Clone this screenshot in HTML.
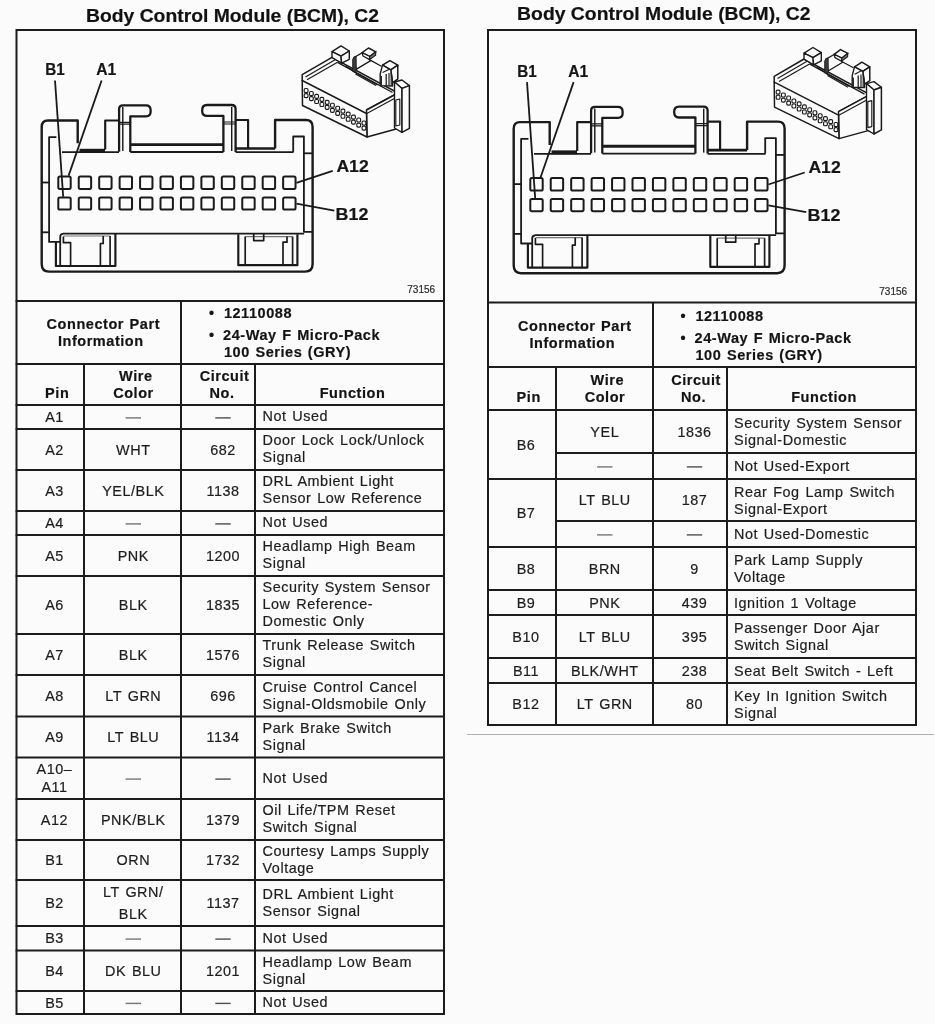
<!DOCTYPE html>
<html><head><meta charset="utf-8"><style>
html,body{margin:0;padding:0;background:#fbfbfb;}
body{width:935px;height:1024px;overflow:hidden;}
svg{display:block;font-family:"Liberation Sans", sans-serif;filter:grayscale(1) blur(0.3px);}
text{stroke:#1e1e1e;stroke-width:0.2px;}
</style></head><body>
<svg width="935" height="1024" viewBox="0 0 935 1024" font-family='"Liberation Sans", sans-serif'>
<rect x="0" y="0" width="935" height="1024" fill="#fbfbfb"/>
<text x="86.0" y="21.6" font-size="17.5" font-weight="bold" textLength="293" lengthAdjust="spacingAndGlyphs" fill="#111">Body Control Module (BCM), C2</text>
<text x="517.1" y="20.3" font-size="17.5" font-weight="bold" textLength="293.5" lengthAdjust="spacingAndGlyphs" fill="#111">Body Control Module (BCM), C2</text>
<rect x="16.5" y="30" width="427.5" height="984" fill="none" stroke="#1c1c1c" stroke-width="2.0"/>
<rect x="488" y="30" width="428" height="695" fill="none" stroke="#1c1c1c" stroke-width="2.0"/>
<g><path d="M77.7 143.3 V120.5 H48 Q41.7 120.5 41.7 127 V264 Q41.7 271.6 49 271.6 H305 Q312.6 271.6 312.6 264 V127 Q312.6 120 306 120 H275.1 V148.5" fill="none" stroke="#1a1a1a" stroke-linejoin="round" stroke-linecap="butt" stroke-width="2.40" />
<path d="M41.7 182.5 H49" fill="none" stroke="#1a1a1a" stroke-linejoin="round" stroke-linecap="butt" stroke-width="1.80" />
<path d="M41.7 232.3 H48.9" fill="none" stroke="#1a1a1a" stroke-linejoin="round" stroke-linecap="butt" stroke-width="1.80" />
<path d="M56.4 137.2 H49.1 V241.9 H60.2" fill="none" stroke="#1a1a1a" stroke-linejoin="round" stroke-linecap="butt" stroke-width="1.80" />
<path d="M293.2 152 V136.5 H303.9 V231.8 H312.6" fill="none" stroke="#1a1a1a" stroke-linejoin="round" stroke-linecap="butt" stroke-width="1.80" />
<path d="M303.9 153.3 H312.6" fill="none" stroke="#1a1a1a" stroke-linejoin="round" stroke-linecap="butt" stroke-width="1.80" />
<path d="M62 152.2 H119" fill="none" stroke="#1a1a1a" stroke-linejoin="round" stroke-linecap="butt" stroke-width="1.80" />
<path d="M79.5 150.7 H105" fill="none" stroke="#1a1a1a" stroke-linejoin="round" stroke-linecap="butt" stroke-width="3.84" />
<path d="M130.3 152 H223.4" fill="none" stroke="#1a1a1a" stroke-linejoin="round" stroke-linecap="butt" stroke-width="1.80" />
<path d="M235.6 152.2 H293.6" fill="none" stroke="#1a1a1a" stroke-linejoin="round" stroke-linecap="butt" stroke-width="1.80" />
<path d="M130.3 144.6 H223.4" fill="none" stroke="#1a1a1a" stroke-linejoin="round" stroke-linecap="butt" stroke-width="2.88" />
<path d="M235.6 148.5 H275.1" fill="none" stroke="#1a1a1a" stroke-linejoin="round" stroke-linecap="butt" stroke-width="2.64" />
<path d="M105.2 149.5 V120.5 H119.1" fill="none" stroke="#1a1a1a" stroke-linejoin="round" stroke-linecap="butt" stroke-width="2.16" />
<path d="M119.1 151.7 V109 Q119.1 105.3 123 105.3 H146 Q150.6 105.3 150.6 110 V112 Q150.6 116.3 146 116.3 H130.3 V152" fill="none" stroke="#1a1a1a" stroke-linejoin="round" stroke-linecap="butt" stroke-width="2.28" />
<path d="M122.8 107 V151" fill="none" stroke="#1a1a1a" stroke-linejoin="round" stroke-linecap="butt" stroke-width="1.44" />
<path d="M119.1 122.3 H130.3 M119.1 124.2 H130.3" fill="none" stroke="#1a1a1a" stroke-linejoin="round" stroke-linecap="butt" stroke-width="1.20" />
<path d="M235.6 152 V109 Q235.6 105 231.5 105 H207 Q202.2 105 202.2 110 V111 Q202.2 115.9 207 115.9 H223.4 V152" fill="none" stroke="#1a1a1a" stroke-linejoin="round" stroke-linecap="butt" stroke-width="2.28" />
<path d="M231.7 107 V151" fill="none" stroke="#1a1a1a" stroke-linejoin="round" stroke-linecap="butt" stroke-width="1.44" />
<path d="M223.4 122 H235.6 M223.4 124 H235.6" fill="none" stroke="#1a1a1a" stroke-linejoin="round" stroke-linecap="butt" stroke-width="1.20" />
<path d="M235.6 120 H248.1 V148.5" fill="none" stroke="#1a1a1a" stroke-linejoin="round" stroke-linecap="butt" stroke-width="2.16" />
<path d="M63 233.6 H304.1" fill="none" stroke="#1a1a1a" stroke-linejoin="round" stroke-linecap="butt" stroke-width="1.80" />
<path d="M63.4 236 H110.1" fill="none" stroke="#1a1a1a" stroke-linejoin="round" stroke-linecap="butt" stroke-width="1.20" stroke-opacity="0.6"/>
<path d="M245.2 236.6 H292.6" fill="none" stroke="#1a1a1a" stroke-linejoin="round" stroke-linecap="butt" stroke-width="1.20" stroke-opacity="0.6"/>
<path d="M55.9 242 V266 H115.4 V233.6" fill="none" stroke="#1a1a1a" stroke-linejoin="round" stroke-linecap="butt" stroke-width="2.16" />
<path d="M60.2 266 V237 Q60.2 233.9 63 233.9" fill="none" stroke="#1a1a1a" stroke-linejoin="round" stroke-linecap="butt" stroke-width="1.80" />
<path d="M63.4 236.5 V242.7 H70.6 V266" fill="none" stroke="#1a1a1a" stroke-linejoin="round" stroke-linecap="butt" stroke-width="1.68" />
<path d="M100.4 266 V243.5 H103.2 V236" fill="none" stroke="#1a1a1a" stroke-linejoin="round" stroke-linecap="butt" stroke-width="1.68" />
<path d="M110.1 236 V266" fill="none" stroke="#1a1a1a" stroke-linejoin="round" stroke-linecap="butt" stroke-width="1.68" />
<path d="M238.3 234.2 V265.2 H297.4 V234.2" fill="none" stroke="#1a1a1a" stroke-linejoin="round" stroke-linecap="butt" stroke-width="2.16" />
<path d="M245.2 236.6 V265.2" fill="none" stroke="#1a1a1a" stroke-linejoin="round" stroke-linecap="butt" stroke-width="1.68" />
<path d="M253.7 233.6 V240.6 H263.7 V233.6" fill="none" stroke="#1a1a1a" stroke-linejoin="round" stroke-linecap="butt" stroke-width="1.68" />
<path d="M283 265.2 V242.2 H287 V236.6" fill="none" stroke="#1a1a1a" stroke-linejoin="round" stroke-linecap="butt" stroke-width="1.68" />
<path d="M292.6 236.6 V265.2" fill="none" stroke="#1a1a1a" stroke-linejoin="round" stroke-linecap="butt" stroke-width="1.68" />
<rect x="58.30" y="176.5" width="12.4" height="12.4" rx="1.6" fill="none" stroke="#1a1a1a" stroke-linejoin="round" stroke-linecap="butt" stroke-width="2.0"/>
<rect x="58.30" y="197.4" width="12.4" height="12.2" rx="1.6" fill="none" stroke="#1a1a1a" stroke-linejoin="round" stroke-linecap="butt" stroke-width="2.0"/>
<rect x="78.74" y="176.5" width="12.4" height="12.4" rx="1.6" fill="none" stroke="#1a1a1a" stroke-linejoin="round" stroke-linecap="butt" stroke-width="2.0"/>
<rect x="78.74" y="197.4" width="12.4" height="12.2" rx="1.6" fill="none" stroke="#1a1a1a" stroke-linejoin="round" stroke-linecap="butt" stroke-width="2.0"/>
<rect x="99.18" y="176.5" width="12.4" height="12.4" rx="1.6" fill="none" stroke="#1a1a1a" stroke-linejoin="round" stroke-linecap="butt" stroke-width="2.0"/>
<rect x="99.18" y="197.4" width="12.4" height="12.2" rx="1.6" fill="none" stroke="#1a1a1a" stroke-linejoin="round" stroke-linecap="butt" stroke-width="2.0"/>
<rect x="119.62" y="176.5" width="12.4" height="12.4" rx="1.6" fill="none" stroke="#1a1a1a" stroke-linejoin="round" stroke-linecap="butt" stroke-width="2.0"/>
<rect x="119.62" y="197.4" width="12.4" height="12.2" rx="1.6" fill="none" stroke="#1a1a1a" stroke-linejoin="round" stroke-linecap="butt" stroke-width="2.0"/>
<rect x="140.06" y="176.5" width="12.4" height="12.4" rx="1.6" fill="none" stroke="#1a1a1a" stroke-linejoin="round" stroke-linecap="butt" stroke-width="2.0"/>
<rect x="140.06" y="197.4" width="12.4" height="12.2" rx="1.6" fill="none" stroke="#1a1a1a" stroke-linejoin="round" stroke-linecap="butt" stroke-width="2.0"/>
<rect x="160.50" y="176.5" width="12.4" height="12.4" rx="1.6" fill="none" stroke="#1a1a1a" stroke-linejoin="round" stroke-linecap="butt" stroke-width="2.0"/>
<rect x="160.50" y="197.4" width="12.4" height="12.2" rx="1.6" fill="none" stroke="#1a1a1a" stroke-linejoin="round" stroke-linecap="butt" stroke-width="2.0"/>
<rect x="180.94" y="176.5" width="12.4" height="12.4" rx="1.6" fill="none" stroke="#1a1a1a" stroke-linejoin="round" stroke-linecap="butt" stroke-width="2.0"/>
<rect x="180.94" y="197.4" width="12.4" height="12.2" rx="1.6" fill="none" stroke="#1a1a1a" stroke-linejoin="round" stroke-linecap="butt" stroke-width="2.0"/>
<rect x="201.38" y="176.5" width="12.4" height="12.4" rx="1.6" fill="none" stroke="#1a1a1a" stroke-linejoin="round" stroke-linecap="butt" stroke-width="2.0"/>
<rect x="201.38" y="197.4" width="12.4" height="12.2" rx="1.6" fill="none" stroke="#1a1a1a" stroke-linejoin="round" stroke-linecap="butt" stroke-width="2.0"/>
<rect x="221.82" y="176.5" width="12.4" height="12.4" rx="1.6" fill="none" stroke="#1a1a1a" stroke-linejoin="round" stroke-linecap="butt" stroke-width="2.0"/>
<rect x="221.82" y="197.4" width="12.4" height="12.2" rx="1.6" fill="none" stroke="#1a1a1a" stroke-linejoin="round" stroke-linecap="butt" stroke-width="2.0"/>
<rect x="242.26" y="176.5" width="12.4" height="12.4" rx="1.6" fill="none" stroke="#1a1a1a" stroke-linejoin="round" stroke-linecap="butt" stroke-width="2.0"/>
<rect x="242.26" y="197.4" width="12.4" height="12.2" rx="1.6" fill="none" stroke="#1a1a1a" stroke-linejoin="round" stroke-linecap="butt" stroke-width="2.0"/>
<rect x="262.70" y="176.5" width="12.4" height="12.4" rx="1.6" fill="none" stroke="#1a1a1a" stroke-linejoin="round" stroke-linecap="butt" stroke-width="2.0"/>
<rect x="262.70" y="197.4" width="12.4" height="12.2" rx="1.6" fill="none" stroke="#1a1a1a" stroke-linejoin="round" stroke-linecap="butt" stroke-width="2.0"/>
<rect x="283.14" y="176.5" width="12.4" height="12.4" rx="1.6" fill="none" stroke="#1a1a1a" stroke-linejoin="round" stroke-linecap="butt" stroke-width="2.0"/>
<rect x="283.14" y="197.4" width="12.4" height="12.2" rx="1.6" fill="none" stroke="#1a1a1a" stroke-linejoin="round" stroke-linecap="butt" stroke-width="2.0"/>
<path d="M55.0 80.5 L63.2 196.8" fill="none" stroke="#1a1a1a" stroke-linejoin="round" stroke-linecap="butt" stroke-width="1.80" />
<path d="M101.6 80.5 L68.6 175.6" fill="none" stroke="#1a1a1a" stroke-linejoin="round" stroke-linecap="butt" stroke-width="1.80" />
<path d="M296.4 182.9 L332.7 170.9" fill="none" stroke="#1a1a1a" stroke-linejoin="round" stroke-linecap="butt" stroke-width="1.80" />
<path d="M296.4 203.7 L334.3 210.6" fill="none" stroke="#1a1a1a" stroke-linejoin="round" stroke-linecap="butt" stroke-width="1.80" />
<text x="45.3" y="75.1" font-family='"Liberation Sans", sans-serif' font-weight="bold" font-size="16.5" fill="#151515" textLength="19.5" lengthAdjust="spacingAndGlyphs">B1</text>
<text x="96.3" y="75.1" font-family='"Liberation Sans", sans-serif' font-weight="bold" font-size="16.5" fill="#151515" textLength="20" lengthAdjust="spacingAndGlyphs">A1</text>
<text x="336.4" y="171.8" font-family='"Liberation Sans", sans-serif' font-weight="bold" font-size="16.5" fill="#151515" textLength="32.3" lengthAdjust="spacingAndGlyphs">A12</text>
<text x="335.6" y="219.9" font-family='"Liberation Sans", sans-serif' font-weight="bold" font-size="16.5" fill="#151515" textLength="32.8" lengthAdjust="spacingAndGlyphs">B12</text>
<text x="407.3" y="293" font-family='"Liberation Sans", sans-serif' font-size="10" fill="#333">73156</text>
<polygon points="302.2,74.7 332,57.4 398,93 366.5,110 366.5,113.5 302.2,80.5" fill="#fbfbfb" stroke="none"/>
<polyline points="302.2,81 302.2,74.7 332,57.4 398,93 366.5,110" fill="none" stroke="#1a1a1a" stroke-width="1.49" stroke-linejoin="round"/>
<polygon points="366.5,110 398,93 398,128.5 367,137" fill="#fbfbfb" stroke="#1a1a1a" stroke-linejoin="round" stroke-width="1.49"/>
<polygon points="302.2,80.5 366.5,113.5 367,137 302.5,105.5" fill="#fbfbfb" stroke="#1a1a1a" stroke-linejoin="round" stroke-width="1.49"/>
<polyline points="305.5,77 335.5,59.5" fill="none" stroke="#1a1a1a" stroke-width="1.15" stroke-linejoin="round"/>
<polyline points="307,79.8 337.5,62.3" fill="none" stroke="#1a1a1a" stroke-width="1.15" stroke-linejoin="round"/>
<polyline points="366.8,113.6 398,96.6" fill="none" stroke="#1a1a1a" stroke-width="1.15" stroke-linejoin="round"/>
<polyline points="337.5,62.3 392.5,92.5" fill="none" stroke="#1a1a1a" stroke-width="1.38" stroke-linejoin="round"/>
<polygon points="332,51.6 341,45.9 349.3,51 341,56.1" fill="#fbfbfb" stroke="#1a1a1a" stroke-linejoin="round" stroke-width="1.38"/>
<polygon points="332,51.6 341,56.1 341.6,63.2 332,57.5" fill="#fbfbfb" stroke="#1a1a1a" stroke-linejoin="round" stroke-width="1.38"/>
<polygon points="341,56.1 349.3,51 349.3,59.3 341.6,63.2" fill="#fbfbfb" stroke="#1a1a1a" stroke-linejoin="round" stroke-width="1.38"/>
<polyline points="345,66 353.6,70.7" fill="none" stroke="#1a1a1a" stroke-width="1.38" stroke-linejoin="round"/>
<polyline points="353.6,71.6 377.5,84.8" fill="none" stroke="#1a1a1a" stroke-width="1.38" stroke-linejoin="round"/>
<polyline points="355.5,74 376,85.6" fill="none" stroke="#1a1a1a" stroke-width="1.15" stroke-linejoin="round"/>
<polygon points="354,57.5 362.5,52.6 370.7,60.6 356.1,69.4" fill="#fbfbfb" stroke="#1a1a1a" stroke-linejoin="round" stroke-width="1.26"/>
<polygon points="352.6,71.5 352.6,59.5 354,56.8 356.2,56.8 356.4,71.3" fill="#3a3a3a" stroke="#1a1a1a" stroke-width="0.8"/>
<polygon points="362.1,52.7 368.5,48 375.8,51.8 369.8,56.5" fill="#fbfbfb" stroke="#1a1a1a" stroke-linejoin="round" stroke-width="1.49"/>
<polygon points="362.1,52.7 369.8,56.5 369.6,59.6 363,56" fill="#fbfbfb" stroke="#1a1a1a" stroke-linejoin="round" stroke-width="1.26"/>
<polygon points="369.8,56.5 375.8,51.8 375.6,55.2 369.6,59.6" fill="#777" stroke="#1a1a1a" stroke-width="1.1"/>
<polyline points="370.7,60.4 381.4,66.2" fill="none" stroke="#1a1a1a" stroke-width="1.26" stroke-linejoin="round"/>
<polygon points="382.5,65.2 389.9,60.6 397.8,65.2 390.8,69.8" fill="#fbfbfb" stroke="#1a1a1a" stroke-linejoin="round" stroke-width="1.49"/>
<polygon points="390.8,69.8 397.8,65.2 397.8,79.1 392.6,82.6" fill="#fbfbfb" stroke="#1a1a1a" stroke-linejoin="round" stroke-width="1.49"/>
<polygon points="382.5,65.2 390.8,69.8 392.6,82.6 392.6,86 380.2,85.6 380.2,74" fill="#fbfbfb" stroke="#1a1a1a" stroke-linejoin="round" stroke-width="1.38"/>
<polyline points="382.6,72.6 389.9,68.9" fill="none" stroke="#1a1a1a" stroke-width="1.15" stroke-linejoin="round"/>
<rect x="380.2" y="76" width="1.8" height="9.6" fill="#2a2a2a"/>
<polyline points="386.2,74 386.2,85.8" fill="none" stroke="#1a1a1a" stroke-width="1.26" stroke-linejoin="round"/>
<polyline points="389,73 389,85.8" fill="none" stroke="#1a1a1a" stroke-width="1.15" stroke-linejoin="round"/>
<polyline points="391.2,72 391.2,85.8" fill="none" stroke="#1a1a1a" stroke-width="1.15" stroke-linejoin="round"/>
<polygon points="394.5,82 402,80 409.4,85.6 402,88.4" fill="#fbfbfb" stroke="#1a1a1a" stroke-linejoin="round" stroke-width="1.38"/>
<polygon points="394.5,82 402,88.4 402,132.4 394.5,128" fill="#fbfbfb" stroke="#1a1a1a" stroke-linejoin="round" stroke-width="1.38"/>
<polygon points="402,88.4 409.4,85.6 409.4,128.3 402,132.4" fill="#fbfbfb" stroke="#1a1a1a" stroke-linejoin="round" stroke-width="1.49"/>
<polygon points="395.8,100 399.8,99 399.8,125 395.8,126" fill="#fbfbfb" stroke="#1a1a1a" stroke-linejoin="round" stroke-width="1.15"/>
<rect x="304.20" y="88.50" width="3.8" height="4.0" rx="1.3" fill="none" stroke="#1a1a1a" stroke-width="1.15"/>
<rect x="304.20" y="93.60" width="3.8" height="4.0" rx="1.3" fill="none" stroke="#1a1a1a" stroke-width="1.15"/>
<rect x="309.46" y="91.45" width="3.8" height="4.0" rx="1.3" fill="none" stroke="#1a1a1a" stroke-width="1.15"/>
<rect x="309.46" y="96.55" width="3.8" height="4.0" rx="1.3" fill="none" stroke="#1a1a1a" stroke-width="1.15"/>
<rect x="314.72" y="94.40" width="3.8" height="4.0" rx="1.3" fill="none" stroke="#1a1a1a" stroke-width="1.15"/>
<rect x="314.72" y="99.50" width="3.8" height="4.0" rx="1.3" fill="none" stroke="#1a1a1a" stroke-width="1.15"/>
<rect x="319.98" y="97.35" width="3.8" height="4.0" rx="1.3" fill="none" stroke="#1a1a1a" stroke-width="1.15"/>
<rect x="319.98" y="102.45" width="3.8" height="4.0" rx="1.3" fill="none" stroke="#1a1a1a" stroke-width="1.15"/>
<rect x="325.24" y="100.30" width="3.8" height="4.0" rx="1.3" fill="none" stroke="#1a1a1a" stroke-width="1.15"/>
<rect x="325.24" y="105.40" width="3.8" height="4.0" rx="1.3" fill="none" stroke="#1a1a1a" stroke-width="1.15"/>
<rect x="330.50" y="103.25" width="3.8" height="4.0" rx="1.3" fill="none" stroke="#1a1a1a" stroke-width="1.15"/>
<rect x="330.50" y="108.35" width="3.8" height="4.0" rx="1.3" fill="none" stroke="#1a1a1a" stroke-width="1.15"/>
<rect x="335.76" y="106.20" width="3.8" height="4.0" rx="1.3" fill="none" stroke="#1a1a1a" stroke-width="1.15"/>
<rect x="335.76" y="111.30" width="3.8" height="4.0" rx="1.3" fill="none" stroke="#1a1a1a" stroke-width="1.15"/>
<rect x="341.02" y="109.15" width="3.8" height="4.0" rx="1.3" fill="none" stroke="#1a1a1a" stroke-width="1.15"/>
<rect x="341.02" y="114.25" width="3.8" height="4.0" rx="1.3" fill="none" stroke="#1a1a1a" stroke-width="1.15"/>
<rect x="346.28" y="112.10" width="3.8" height="4.0" rx="1.3" fill="none" stroke="#1a1a1a" stroke-width="1.15"/>
<rect x="346.28" y="117.20" width="3.8" height="4.0" rx="1.3" fill="none" stroke="#1a1a1a" stroke-width="1.15"/>
<rect x="351.54" y="115.05" width="3.8" height="4.0" rx="1.3" fill="none" stroke="#1a1a1a" stroke-width="1.15"/>
<rect x="351.54" y="120.15" width="3.8" height="4.0" rx="1.3" fill="none" stroke="#1a1a1a" stroke-width="1.15"/>
<rect x="356.80" y="118.00" width="3.8" height="4.0" rx="1.3" fill="none" stroke="#1a1a1a" stroke-width="1.15"/>
<rect x="356.80" y="123.10" width="3.8" height="4.0" rx="1.3" fill="none" stroke="#1a1a1a" stroke-width="1.15"/>
<rect x="362.06" y="120.95" width="3.8" height="4.0" rx="1.3" fill="none" stroke="#1a1a1a" stroke-width="1.15"/>
<rect x="362.06" y="126.05" width="3.8" height="4.0" rx="1.3" fill="none" stroke="#1a1a1a" stroke-width="1.15"/></g>
<g transform="translate(472 1.6)"><path d="M77.7 143.3 V120.5 H48 Q41.7 120.5 41.7 127 V264 Q41.7 271.6 49 271.6 H305 Q312.6 271.6 312.6 264 V127 Q312.6 120 306 120 H275.1 V148.5" fill="none" stroke="#1a1a1a" stroke-linejoin="round" stroke-linecap="butt" stroke-width="2.40" />
<path d="M41.7 182.5 H49" fill="none" stroke="#1a1a1a" stroke-linejoin="round" stroke-linecap="butt" stroke-width="1.80" />
<path d="M41.7 232.3 H48.9" fill="none" stroke="#1a1a1a" stroke-linejoin="round" stroke-linecap="butt" stroke-width="1.80" />
<path d="M56.4 137.2 H49.1 V241.9 H60.2" fill="none" stroke="#1a1a1a" stroke-linejoin="round" stroke-linecap="butt" stroke-width="1.80" />
<path d="M293.2 152 V136.5 H303.9 V231.8 H312.6" fill="none" stroke="#1a1a1a" stroke-linejoin="round" stroke-linecap="butt" stroke-width="1.80" />
<path d="M303.9 153.3 H312.6" fill="none" stroke="#1a1a1a" stroke-linejoin="round" stroke-linecap="butt" stroke-width="1.80" />
<path d="M62 152.2 H119" fill="none" stroke="#1a1a1a" stroke-linejoin="round" stroke-linecap="butt" stroke-width="1.80" />
<path d="M79.5 150.7 H105" fill="none" stroke="#1a1a1a" stroke-linejoin="round" stroke-linecap="butt" stroke-width="3.84" />
<path d="M130.3 152 H223.4" fill="none" stroke="#1a1a1a" stroke-linejoin="round" stroke-linecap="butt" stroke-width="1.80" />
<path d="M235.6 152.2 H293.6" fill="none" stroke="#1a1a1a" stroke-linejoin="round" stroke-linecap="butt" stroke-width="1.80" />
<path d="M130.3 144.6 H223.4" fill="none" stroke="#1a1a1a" stroke-linejoin="round" stroke-linecap="butt" stroke-width="2.88" />
<path d="M235.6 148.5 H275.1" fill="none" stroke="#1a1a1a" stroke-linejoin="round" stroke-linecap="butt" stroke-width="2.64" />
<path d="M105.2 149.5 V120.5 H119.1" fill="none" stroke="#1a1a1a" stroke-linejoin="round" stroke-linecap="butt" stroke-width="2.16" />
<path d="M119.1 151.7 V109 Q119.1 105.3 123 105.3 H146 Q150.6 105.3 150.6 110 V112 Q150.6 116.3 146 116.3 H130.3 V152" fill="none" stroke="#1a1a1a" stroke-linejoin="round" stroke-linecap="butt" stroke-width="2.28" />
<path d="M122.8 107 V151" fill="none" stroke="#1a1a1a" stroke-linejoin="round" stroke-linecap="butt" stroke-width="1.44" />
<path d="M119.1 122.3 H130.3 M119.1 124.2 H130.3" fill="none" stroke="#1a1a1a" stroke-linejoin="round" stroke-linecap="butt" stroke-width="1.20" />
<path d="M235.6 152 V109 Q235.6 105 231.5 105 H207 Q202.2 105 202.2 110 V111 Q202.2 115.9 207 115.9 H223.4 V152" fill="none" stroke="#1a1a1a" stroke-linejoin="round" stroke-linecap="butt" stroke-width="2.28" />
<path d="M231.7 107 V151" fill="none" stroke="#1a1a1a" stroke-linejoin="round" stroke-linecap="butt" stroke-width="1.44" />
<path d="M223.4 122 H235.6 M223.4 124 H235.6" fill="none" stroke="#1a1a1a" stroke-linejoin="round" stroke-linecap="butt" stroke-width="1.20" />
<path d="M235.6 120 H248.1 V148.5" fill="none" stroke="#1a1a1a" stroke-linejoin="round" stroke-linecap="butt" stroke-width="2.16" />
<path d="M63 233.6 H304.1" fill="none" stroke="#1a1a1a" stroke-linejoin="round" stroke-linecap="butt" stroke-width="1.80" />
<path d="M63.4 236 H110.1" fill="none" stroke="#1a1a1a" stroke-linejoin="round" stroke-linecap="butt" stroke-width="1.20" stroke-opacity="0.6"/>
<path d="M245.2 236.6 H292.6" fill="none" stroke="#1a1a1a" stroke-linejoin="round" stroke-linecap="butt" stroke-width="1.20" stroke-opacity="0.6"/>
<path d="M55.9 242 V266 H115.4 V233.6" fill="none" stroke="#1a1a1a" stroke-linejoin="round" stroke-linecap="butt" stroke-width="2.16" />
<path d="M60.2 266 V237 Q60.2 233.9 63 233.9" fill="none" stroke="#1a1a1a" stroke-linejoin="round" stroke-linecap="butt" stroke-width="1.80" />
<path d="M63.4 236.5 V242.7 H70.6 V266" fill="none" stroke="#1a1a1a" stroke-linejoin="round" stroke-linecap="butt" stroke-width="1.68" />
<path d="M100.4 266 V243.5 H103.2 V236" fill="none" stroke="#1a1a1a" stroke-linejoin="round" stroke-linecap="butt" stroke-width="1.68" />
<path d="M110.1 236 V266" fill="none" stroke="#1a1a1a" stroke-linejoin="round" stroke-linecap="butt" stroke-width="1.68" />
<path d="M238.3 234.2 V265.2 H297.4 V234.2" fill="none" stroke="#1a1a1a" stroke-linejoin="round" stroke-linecap="butt" stroke-width="2.16" />
<path d="M245.2 236.6 V265.2" fill="none" stroke="#1a1a1a" stroke-linejoin="round" stroke-linecap="butt" stroke-width="1.68" />
<path d="M253.7 233.6 V240.6 H263.7 V233.6" fill="none" stroke="#1a1a1a" stroke-linejoin="round" stroke-linecap="butt" stroke-width="1.68" />
<path d="M283 265.2 V242.2 H287 V236.6" fill="none" stroke="#1a1a1a" stroke-linejoin="round" stroke-linecap="butt" stroke-width="1.68" />
<path d="M292.6 236.6 V265.2" fill="none" stroke="#1a1a1a" stroke-linejoin="round" stroke-linecap="butt" stroke-width="1.68" />
<rect x="58.30" y="176.5" width="12.4" height="12.4" rx="1.6" fill="none" stroke="#1a1a1a" stroke-linejoin="round" stroke-linecap="butt" stroke-width="2.0"/>
<rect x="58.30" y="197.4" width="12.4" height="12.2" rx="1.6" fill="none" stroke="#1a1a1a" stroke-linejoin="round" stroke-linecap="butt" stroke-width="2.0"/>
<rect x="78.74" y="176.5" width="12.4" height="12.4" rx="1.6" fill="none" stroke="#1a1a1a" stroke-linejoin="round" stroke-linecap="butt" stroke-width="2.0"/>
<rect x="78.74" y="197.4" width="12.4" height="12.2" rx="1.6" fill="none" stroke="#1a1a1a" stroke-linejoin="round" stroke-linecap="butt" stroke-width="2.0"/>
<rect x="99.18" y="176.5" width="12.4" height="12.4" rx="1.6" fill="none" stroke="#1a1a1a" stroke-linejoin="round" stroke-linecap="butt" stroke-width="2.0"/>
<rect x="99.18" y="197.4" width="12.4" height="12.2" rx="1.6" fill="none" stroke="#1a1a1a" stroke-linejoin="round" stroke-linecap="butt" stroke-width="2.0"/>
<rect x="119.62" y="176.5" width="12.4" height="12.4" rx="1.6" fill="none" stroke="#1a1a1a" stroke-linejoin="round" stroke-linecap="butt" stroke-width="2.0"/>
<rect x="119.62" y="197.4" width="12.4" height="12.2" rx="1.6" fill="none" stroke="#1a1a1a" stroke-linejoin="round" stroke-linecap="butt" stroke-width="2.0"/>
<rect x="140.06" y="176.5" width="12.4" height="12.4" rx="1.6" fill="none" stroke="#1a1a1a" stroke-linejoin="round" stroke-linecap="butt" stroke-width="2.0"/>
<rect x="140.06" y="197.4" width="12.4" height="12.2" rx="1.6" fill="none" stroke="#1a1a1a" stroke-linejoin="round" stroke-linecap="butt" stroke-width="2.0"/>
<rect x="160.50" y="176.5" width="12.4" height="12.4" rx="1.6" fill="none" stroke="#1a1a1a" stroke-linejoin="round" stroke-linecap="butt" stroke-width="2.0"/>
<rect x="160.50" y="197.4" width="12.4" height="12.2" rx="1.6" fill="none" stroke="#1a1a1a" stroke-linejoin="round" stroke-linecap="butt" stroke-width="2.0"/>
<rect x="180.94" y="176.5" width="12.4" height="12.4" rx="1.6" fill="none" stroke="#1a1a1a" stroke-linejoin="round" stroke-linecap="butt" stroke-width="2.0"/>
<rect x="180.94" y="197.4" width="12.4" height="12.2" rx="1.6" fill="none" stroke="#1a1a1a" stroke-linejoin="round" stroke-linecap="butt" stroke-width="2.0"/>
<rect x="201.38" y="176.5" width="12.4" height="12.4" rx="1.6" fill="none" stroke="#1a1a1a" stroke-linejoin="round" stroke-linecap="butt" stroke-width="2.0"/>
<rect x="201.38" y="197.4" width="12.4" height="12.2" rx="1.6" fill="none" stroke="#1a1a1a" stroke-linejoin="round" stroke-linecap="butt" stroke-width="2.0"/>
<rect x="221.82" y="176.5" width="12.4" height="12.4" rx="1.6" fill="none" stroke="#1a1a1a" stroke-linejoin="round" stroke-linecap="butt" stroke-width="2.0"/>
<rect x="221.82" y="197.4" width="12.4" height="12.2" rx="1.6" fill="none" stroke="#1a1a1a" stroke-linejoin="round" stroke-linecap="butt" stroke-width="2.0"/>
<rect x="242.26" y="176.5" width="12.4" height="12.4" rx="1.6" fill="none" stroke="#1a1a1a" stroke-linejoin="round" stroke-linecap="butt" stroke-width="2.0"/>
<rect x="242.26" y="197.4" width="12.4" height="12.2" rx="1.6" fill="none" stroke="#1a1a1a" stroke-linejoin="round" stroke-linecap="butt" stroke-width="2.0"/>
<rect x="262.70" y="176.5" width="12.4" height="12.4" rx="1.6" fill="none" stroke="#1a1a1a" stroke-linejoin="round" stroke-linecap="butt" stroke-width="2.0"/>
<rect x="262.70" y="197.4" width="12.4" height="12.2" rx="1.6" fill="none" stroke="#1a1a1a" stroke-linejoin="round" stroke-linecap="butt" stroke-width="2.0"/>
<rect x="283.14" y="176.5" width="12.4" height="12.4" rx="1.6" fill="none" stroke="#1a1a1a" stroke-linejoin="round" stroke-linecap="butt" stroke-width="2.0"/>
<rect x="283.14" y="197.4" width="12.4" height="12.2" rx="1.6" fill="none" stroke="#1a1a1a" stroke-linejoin="round" stroke-linecap="butt" stroke-width="2.0"/>
<path d="M55.0 80.5 L63.2 196.8" fill="none" stroke="#1a1a1a" stroke-linejoin="round" stroke-linecap="butt" stroke-width="1.80" />
<path d="M101.6 80.5 L68.6 175.6" fill="none" stroke="#1a1a1a" stroke-linejoin="round" stroke-linecap="butt" stroke-width="1.80" />
<path d="M296.4 182.9 L332.7 170.9" fill="none" stroke="#1a1a1a" stroke-linejoin="round" stroke-linecap="butt" stroke-width="1.80" />
<path d="M296.4 203.7 L334.3 210.6" fill="none" stroke="#1a1a1a" stroke-linejoin="round" stroke-linecap="butt" stroke-width="1.80" />
<text x="45.3" y="75.1" font-family='"Liberation Sans", sans-serif' font-weight="bold" font-size="16.5" fill="#151515" textLength="19.5" lengthAdjust="spacingAndGlyphs">B1</text>
<text x="96.3" y="75.1" font-family='"Liberation Sans", sans-serif' font-weight="bold" font-size="16.5" fill="#151515" textLength="20" lengthAdjust="spacingAndGlyphs">A1</text>
<text x="336.4" y="171.8" font-family='"Liberation Sans", sans-serif' font-weight="bold" font-size="16.5" fill="#151515" textLength="32.3" lengthAdjust="spacingAndGlyphs">A12</text>
<text x="335.6" y="219.9" font-family='"Liberation Sans", sans-serif' font-weight="bold" font-size="16.5" fill="#151515" textLength="32.8" lengthAdjust="spacingAndGlyphs">B12</text>
<text x="407.3" y="293" font-family='"Liberation Sans", sans-serif' font-size="10" fill="#333">73156</text>
<polygon points="302.2,74.7 332,57.4 398,93 366.5,110 366.5,113.5 302.2,80.5" fill="#fbfbfb" stroke="none"/>
<polyline points="302.2,81 302.2,74.7 332,57.4 398,93 366.5,110" fill="none" stroke="#1a1a1a" stroke-width="1.49" stroke-linejoin="round"/>
<polygon points="366.5,110 398,93 398,128.5 367,137" fill="#fbfbfb" stroke="#1a1a1a" stroke-linejoin="round" stroke-width="1.49"/>
<polygon points="302.2,80.5 366.5,113.5 367,137 302.5,105.5" fill="#fbfbfb" stroke="#1a1a1a" stroke-linejoin="round" stroke-width="1.49"/>
<polyline points="305.5,77 335.5,59.5" fill="none" stroke="#1a1a1a" stroke-width="1.15" stroke-linejoin="round"/>
<polyline points="307,79.8 337.5,62.3" fill="none" stroke="#1a1a1a" stroke-width="1.15" stroke-linejoin="round"/>
<polyline points="366.8,113.6 398,96.6" fill="none" stroke="#1a1a1a" stroke-width="1.15" stroke-linejoin="round"/>
<polyline points="337.5,62.3 392.5,92.5" fill="none" stroke="#1a1a1a" stroke-width="1.38" stroke-linejoin="round"/>
<polygon points="332,51.6 341,45.9 349.3,51 341,56.1" fill="#fbfbfb" stroke="#1a1a1a" stroke-linejoin="round" stroke-width="1.38"/>
<polygon points="332,51.6 341,56.1 341.6,63.2 332,57.5" fill="#fbfbfb" stroke="#1a1a1a" stroke-linejoin="round" stroke-width="1.38"/>
<polygon points="341,56.1 349.3,51 349.3,59.3 341.6,63.2" fill="#fbfbfb" stroke="#1a1a1a" stroke-linejoin="round" stroke-width="1.38"/>
<polyline points="345,66 353.6,70.7" fill="none" stroke="#1a1a1a" stroke-width="1.38" stroke-linejoin="round"/>
<polyline points="353.6,71.6 377.5,84.8" fill="none" stroke="#1a1a1a" stroke-width="1.38" stroke-linejoin="round"/>
<polyline points="355.5,74 376,85.6" fill="none" stroke="#1a1a1a" stroke-width="1.15" stroke-linejoin="round"/>
<polygon points="354,57.5 362.5,52.6 370.7,60.6 356.1,69.4" fill="#fbfbfb" stroke="#1a1a1a" stroke-linejoin="round" stroke-width="1.26"/>
<polygon points="352.6,71.5 352.6,59.5 354,56.8 356.2,56.8 356.4,71.3" fill="#3a3a3a" stroke="#1a1a1a" stroke-width="0.8"/>
<polygon points="362.1,52.7 368.5,48 375.8,51.8 369.8,56.5" fill="#fbfbfb" stroke="#1a1a1a" stroke-linejoin="round" stroke-width="1.49"/>
<polygon points="362.1,52.7 369.8,56.5 369.6,59.6 363,56" fill="#fbfbfb" stroke="#1a1a1a" stroke-linejoin="round" stroke-width="1.26"/>
<polygon points="369.8,56.5 375.8,51.8 375.6,55.2 369.6,59.6" fill="#777" stroke="#1a1a1a" stroke-width="1.1"/>
<polyline points="370.7,60.4 381.4,66.2" fill="none" stroke="#1a1a1a" stroke-width="1.26" stroke-linejoin="round"/>
<polygon points="382.5,65.2 389.9,60.6 397.8,65.2 390.8,69.8" fill="#fbfbfb" stroke="#1a1a1a" stroke-linejoin="round" stroke-width="1.49"/>
<polygon points="390.8,69.8 397.8,65.2 397.8,79.1 392.6,82.6" fill="#fbfbfb" stroke="#1a1a1a" stroke-linejoin="round" stroke-width="1.49"/>
<polygon points="382.5,65.2 390.8,69.8 392.6,82.6 392.6,86 380.2,85.6 380.2,74" fill="#fbfbfb" stroke="#1a1a1a" stroke-linejoin="round" stroke-width="1.38"/>
<polyline points="382.6,72.6 389.9,68.9" fill="none" stroke="#1a1a1a" stroke-width="1.15" stroke-linejoin="round"/>
<rect x="380.2" y="76" width="1.8" height="9.6" fill="#2a2a2a"/>
<polyline points="386.2,74 386.2,85.8" fill="none" stroke="#1a1a1a" stroke-width="1.26" stroke-linejoin="round"/>
<polyline points="389,73 389,85.8" fill="none" stroke="#1a1a1a" stroke-width="1.15" stroke-linejoin="round"/>
<polyline points="391.2,72 391.2,85.8" fill="none" stroke="#1a1a1a" stroke-width="1.15" stroke-linejoin="round"/>
<polygon points="394.5,82 402,80 409.4,85.6 402,88.4" fill="#fbfbfb" stroke="#1a1a1a" stroke-linejoin="round" stroke-width="1.38"/>
<polygon points="394.5,82 402,88.4 402,132.4 394.5,128" fill="#fbfbfb" stroke="#1a1a1a" stroke-linejoin="round" stroke-width="1.38"/>
<polygon points="402,88.4 409.4,85.6 409.4,128.3 402,132.4" fill="#fbfbfb" stroke="#1a1a1a" stroke-linejoin="round" stroke-width="1.49"/>
<polygon points="395.8,100 399.8,99 399.8,125 395.8,126" fill="#fbfbfb" stroke="#1a1a1a" stroke-linejoin="round" stroke-width="1.15"/>
<rect x="304.20" y="88.50" width="3.8" height="4.0" rx="1.3" fill="none" stroke="#1a1a1a" stroke-width="1.15"/>
<rect x="304.20" y="93.60" width="3.8" height="4.0" rx="1.3" fill="none" stroke="#1a1a1a" stroke-width="1.15"/>
<rect x="309.46" y="91.45" width="3.8" height="4.0" rx="1.3" fill="none" stroke="#1a1a1a" stroke-width="1.15"/>
<rect x="309.46" y="96.55" width="3.8" height="4.0" rx="1.3" fill="none" stroke="#1a1a1a" stroke-width="1.15"/>
<rect x="314.72" y="94.40" width="3.8" height="4.0" rx="1.3" fill="none" stroke="#1a1a1a" stroke-width="1.15"/>
<rect x="314.72" y="99.50" width="3.8" height="4.0" rx="1.3" fill="none" stroke="#1a1a1a" stroke-width="1.15"/>
<rect x="319.98" y="97.35" width="3.8" height="4.0" rx="1.3" fill="none" stroke="#1a1a1a" stroke-width="1.15"/>
<rect x="319.98" y="102.45" width="3.8" height="4.0" rx="1.3" fill="none" stroke="#1a1a1a" stroke-width="1.15"/>
<rect x="325.24" y="100.30" width="3.8" height="4.0" rx="1.3" fill="none" stroke="#1a1a1a" stroke-width="1.15"/>
<rect x="325.24" y="105.40" width="3.8" height="4.0" rx="1.3" fill="none" stroke="#1a1a1a" stroke-width="1.15"/>
<rect x="330.50" y="103.25" width="3.8" height="4.0" rx="1.3" fill="none" stroke="#1a1a1a" stroke-width="1.15"/>
<rect x="330.50" y="108.35" width="3.8" height="4.0" rx="1.3" fill="none" stroke="#1a1a1a" stroke-width="1.15"/>
<rect x="335.76" y="106.20" width="3.8" height="4.0" rx="1.3" fill="none" stroke="#1a1a1a" stroke-width="1.15"/>
<rect x="335.76" y="111.30" width="3.8" height="4.0" rx="1.3" fill="none" stroke="#1a1a1a" stroke-width="1.15"/>
<rect x="341.02" y="109.15" width="3.8" height="4.0" rx="1.3" fill="none" stroke="#1a1a1a" stroke-width="1.15"/>
<rect x="341.02" y="114.25" width="3.8" height="4.0" rx="1.3" fill="none" stroke="#1a1a1a" stroke-width="1.15"/>
<rect x="346.28" y="112.10" width="3.8" height="4.0" rx="1.3" fill="none" stroke="#1a1a1a" stroke-width="1.15"/>
<rect x="346.28" y="117.20" width="3.8" height="4.0" rx="1.3" fill="none" stroke="#1a1a1a" stroke-width="1.15"/>
<rect x="351.54" y="115.05" width="3.8" height="4.0" rx="1.3" fill="none" stroke="#1a1a1a" stroke-width="1.15"/>
<rect x="351.54" y="120.15" width="3.8" height="4.0" rx="1.3" fill="none" stroke="#1a1a1a" stroke-width="1.15"/>
<rect x="356.80" y="118.00" width="3.8" height="4.0" rx="1.3" fill="none" stroke="#1a1a1a" stroke-width="1.15"/>
<rect x="356.80" y="123.10" width="3.8" height="4.0" rx="1.3" fill="none" stroke="#1a1a1a" stroke-width="1.15"/>
<rect x="362.06" y="120.95" width="3.8" height="4.0" rx="1.3" fill="none" stroke="#1a1a1a" stroke-width="1.15"/>
<rect x="362.06" y="126.05" width="3.8" height="4.0" rx="1.3" fill="none" stroke="#1a1a1a" stroke-width="1.15"/></g>
<line x1="15.7" y1="301" x2="444.8" y2="301" stroke="#1c1c1c" stroke-width="2.0"/>
<line x1="15.7" y1="364" x2="444.8" y2="364" stroke="#1c1c1c" stroke-width="2.0"/>
<line x1="15.7" y1="405" x2="444.8" y2="405" stroke="#1c1c1c" stroke-width="2.0"/>
<line x1="15.7" y1="429" x2="444.8" y2="429" stroke="#1c1c1c" stroke-width="2.0"/>
<line x1="15.7" y1="470" x2="444.8" y2="470" stroke="#1c1c1c" stroke-width="2.0"/>
<line x1="15.7" y1="511" x2="444.8" y2="511" stroke="#1c1c1c" stroke-width="2.0"/>
<line x1="15.7" y1="535" x2="444.8" y2="535" stroke="#1c1c1c" stroke-width="2.0"/>
<line x1="15.7" y1="576" x2="444.8" y2="576" stroke="#1c1c1c" stroke-width="2.0"/>
<line x1="15.7" y1="634" x2="444.8" y2="634" stroke="#1c1c1c" stroke-width="2.0"/>
<line x1="15.7" y1="675" x2="444.8" y2="675" stroke="#1c1c1c" stroke-width="2.0"/>
<line x1="15.7" y1="716.5" x2="444.8" y2="716.5" stroke="#1c1c1c" stroke-width="2.0"/>
<line x1="15.7" y1="757.5" x2="444.8" y2="757.5" stroke="#1c1c1c" stroke-width="2.0"/>
<line x1="15.7" y1="799" x2="444.8" y2="799" stroke="#1c1c1c" stroke-width="2.0"/>
<line x1="15.7" y1="840" x2="444.8" y2="840" stroke="#1c1c1c" stroke-width="2.0"/>
<line x1="15.7" y1="880" x2="444.8" y2="880" stroke="#1c1c1c" stroke-width="2.0"/>
<line x1="15.7" y1="926" x2="444.8" y2="926" stroke="#1c1c1c" stroke-width="2.0"/>
<line x1="15.7" y1="950.5" x2="444.8" y2="950.5" stroke="#1c1c1c" stroke-width="2.0"/>
<line x1="15.7" y1="991" x2="444.8" y2="991" stroke="#1c1c1c" stroke-width="2.0"/>
<line x1="181" y1="301" x2="181" y2="1014" stroke="#1c1c1c" stroke-width="2.0"/>
<line x1="84" y1="364" x2="84" y2="1014" stroke="#1c1c1c" stroke-width="2.0"/>
<line x1="255" y1="364" x2="255" y2="1014" stroke="#1c1c1c" stroke-width="2.0"/>
<text x="103.3" y="329.1" font-size="14.5" font-weight="bold" text-anchor="middle" letter-spacing="0.55" word-spacing="1.0" fill="#141414">Connector Part</text>
<text x="100.8" y="345.5" font-size="14.5" font-weight="bold" text-anchor="middle" letter-spacing="0.55" word-spacing="1.0" fill="#141414">Information</text>
<text x="209.0" y="317.6" font-size="14.5" font-weight="bold" letter-spacing="0.55" word-spacing="1.0" fill="#141414">•</text>
<text x="223.9" y="317.6" font-size="14.5" font-weight="bold" letter-spacing="0.55" word-spacing="1.0" fill="#141414">12110088</text>
<text x="209.0" y="339.7" font-size="14.5" font-weight="bold" letter-spacing="0.55" word-spacing="1.0" fill="#141414">•</text>
<text x="223.1" y="339.7" font-size="14.5" font-weight="bold" letter-spacing="0.55" word-spacing="1.0" fill="#141414">24-Way F Micro-Pack</text>
<text x="224.0" y="356.7" font-size="14.5" font-weight="bold" letter-spacing="0.55" word-spacing="1.0" fill="#141414">100 Series (GRY)</text>
<text x="57.2" y="398.2" font-size="14.5" font-weight="bold" text-anchor="middle" letter-spacing="0.55" word-spacing="1.0" fill="#141414">Pin</text>
<text x="135.8" y="381" font-size="14.5" font-weight="bold" text-anchor="middle" letter-spacing="0.55" word-spacing="1.0" fill="#141414">Wire</text>
<text x="133.5" y="398.2" font-size="14.5" font-weight="bold" text-anchor="middle" letter-spacing="0.55" word-spacing="1.0" fill="#141414">Color</text>
<text x="224.6" y="381" font-size="14.5" font-weight="bold" text-anchor="middle" letter-spacing="0.55" word-spacing="1.0" fill="#141414">Circuit</text>
<text x="222.1" y="398.2" font-size="14.5" font-weight="bold" text-anchor="middle" letter-spacing="0.55" word-spacing="1.0" fill="#141414">No.</text>
<text x="352.5" y="398.2" font-size="14.5" font-weight="bold" text-anchor="middle" letter-spacing="0.55" word-spacing="1.0" fill="#141414">Function</text>
<text x="54.5" y="422.0" font-size="14.4" text-anchor="middle" letter-spacing="0.55" word-spacing="1.25" fill="#1e1e1e">A1</text>
<line x1="125.60000000000001" y1="417.9" x2="141.0" y2="417.9" stroke="#767676" stroke-width="1.4"/>
<line x1="215.3" y1="417.9" x2="230.7" y2="417.9" stroke="#505050" stroke-width="1.4"/>
<text x="262.5" y="421.2" font-size="14.4" letter-spacing="0.55" word-spacing="1.25" fill="#1e1e1e">Not Used</text>
<text x="54.5" y="454.5" font-size="14.4" text-anchor="middle" letter-spacing="0.55" word-spacing="1.25" fill="#1e1e1e">A2</text>
<text x="133.3" y="454.5" font-size="14.4" text-anchor="middle" letter-spacing="0.55" word-spacing="1.25" fill="#1e1e1e">WHT</text>
<text x="223" y="454.5" font-size="14.4" text-anchor="middle" letter-spacing="0.55" word-spacing="1.25" fill="#1e1e1e">682</text>
<text x="262.5" y="445.2" font-size="14.4" letter-spacing="0.55" word-spacing="1.25" fill="#1e1e1e">Door Lock Lock/Unlock</text>
<text x="262.5" y="462.2" font-size="14.4" letter-spacing="0.55" word-spacing="1.25" fill="#1e1e1e">Signal</text>
<text x="54.5" y="495.5" font-size="14.4" text-anchor="middle" letter-spacing="0.55" word-spacing="1.25" fill="#1e1e1e">A3</text>
<text x="133.3" y="495.5" font-size="14.4" text-anchor="middle" letter-spacing="0.55" word-spacing="1.25" fill="#1e1e1e">YEL/BLK</text>
<text x="223" y="495.5" font-size="14.4" text-anchor="middle" letter-spacing="0.55" word-spacing="1.25" fill="#1e1e1e">1138</text>
<text x="262.5" y="486.2" font-size="14.4" letter-spacing="0.55" word-spacing="1.25" fill="#1e1e1e">DRL Ambient Light</text>
<text x="262.5" y="503.2" font-size="14.4" letter-spacing="0.55" word-spacing="1.25" fill="#1e1e1e">Sensor Low Reference</text>
<text x="54.5" y="528.0" font-size="14.4" text-anchor="middle" letter-spacing="0.55" word-spacing="1.25" fill="#1e1e1e">A4</text>
<line x1="125.60000000000001" y1="523.9" x2="141.0" y2="523.9" stroke="#767676" stroke-width="1.4"/>
<line x1="215.3" y1="523.9" x2="230.7" y2="523.9" stroke="#505050" stroke-width="1.4"/>
<text x="262.5" y="527.2" font-size="14.4" letter-spacing="0.55" word-spacing="1.25" fill="#1e1e1e">Not Used</text>
<text x="54.5" y="560.5" font-size="14.4" text-anchor="middle" letter-spacing="0.55" word-spacing="1.25" fill="#1e1e1e">A5</text>
<text x="133.3" y="560.5" font-size="14.4" text-anchor="middle" letter-spacing="0.55" word-spacing="1.25" fill="#1e1e1e">PNK</text>
<text x="223" y="560.5" font-size="14.4" text-anchor="middle" letter-spacing="0.55" word-spacing="1.25" fill="#1e1e1e">1200</text>
<text x="262.5" y="551.2" font-size="14.4" letter-spacing="0.55" word-spacing="1.25" fill="#1e1e1e">Headlamp High Beam</text>
<text x="262.5" y="568.2" font-size="14.4" letter-spacing="0.55" word-spacing="1.25" fill="#1e1e1e">Signal</text>
<text x="54.5" y="610.0" font-size="14.4" text-anchor="middle" letter-spacing="0.55" word-spacing="1.25" fill="#1e1e1e">A6</text>
<text x="133.3" y="610.0" font-size="14.4" text-anchor="middle" letter-spacing="0.55" word-spacing="1.25" fill="#1e1e1e">BLK</text>
<text x="223" y="610.0" font-size="14.4" text-anchor="middle" letter-spacing="0.55" word-spacing="1.25" fill="#1e1e1e">1835</text>
<text x="262.5" y="592.2" font-size="14.4" letter-spacing="0.55" word-spacing="1.25" fill="#1e1e1e">Security System Sensor</text>
<text x="262.5" y="609.2" font-size="14.4" letter-spacing="0.55" word-spacing="1.25" fill="#1e1e1e">Low Reference-</text>
<text x="262.5" y="626.2" font-size="14.4" letter-spacing="0.55" word-spacing="1.25" fill="#1e1e1e">Domestic Only</text>
<text x="54.5" y="659.5" font-size="14.4" text-anchor="middle" letter-spacing="0.55" word-spacing="1.25" fill="#1e1e1e">A7</text>
<text x="133.3" y="659.5" font-size="14.4" text-anchor="middle" letter-spacing="0.55" word-spacing="1.25" fill="#1e1e1e">BLK</text>
<text x="223" y="659.5" font-size="14.4" text-anchor="middle" letter-spacing="0.55" word-spacing="1.25" fill="#1e1e1e">1576</text>
<text x="262.5" y="650.2" font-size="14.4" letter-spacing="0.55" word-spacing="1.25" fill="#1e1e1e">Trunk Release Switch</text>
<text x="262.5" y="667.2" font-size="14.4" letter-spacing="0.55" word-spacing="1.25" fill="#1e1e1e">Signal</text>
<text x="54.5" y="700.8" font-size="14.4" text-anchor="middle" letter-spacing="0.55" word-spacing="1.25" fill="#1e1e1e">A8</text>
<text x="133.3" y="700.8" font-size="14.4" text-anchor="middle" letter-spacing="0.55" word-spacing="1.25" fill="#1e1e1e">LT GRN</text>
<text x="223" y="700.8" font-size="14.4" text-anchor="middle" letter-spacing="0.55" word-spacing="1.25" fill="#1e1e1e">696</text>
<text x="262.5" y="691.5" font-size="14.4" letter-spacing="0.55" word-spacing="1.25" fill="#1e1e1e">Cruise Control Cancel</text>
<text x="262.5" y="708.5" font-size="14.4" letter-spacing="0.55" word-spacing="1.25" fill="#1e1e1e">Signal-Oldsmobile Only</text>
<text x="54.5" y="742.0" font-size="14.4" text-anchor="middle" letter-spacing="0.55" word-spacing="1.25" fill="#1e1e1e">A9</text>
<text x="133.3" y="742.0" font-size="14.4" text-anchor="middle" letter-spacing="0.55" word-spacing="1.25" fill="#1e1e1e">LT BLU</text>
<text x="223" y="742.0" font-size="14.4" text-anchor="middle" letter-spacing="0.55" word-spacing="1.25" fill="#1e1e1e">1134</text>
<text x="262.5" y="732.7" font-size="14.4" letter-spacing="0.55" word-spacing="1.25" fill="#1e1e1e">Park Brake Switch</text>
<text x="262.5" y="749.7" font-size="14.4" letter-spacing="0.55" word-spacing="1.25" fill="#1e1e1e">Signal</text>
<text x="54.5" y="774.2" font-size="14.4" text-anchor="middle" letter-spacing="0.55" word-spacing="1.25" fill="#1e1e1e">A10–</text>
<text x="54.5" y="791.5" font-size="14.4" text-anchor="middle" letter-spacing="0.55" word-spacing="1.25" fill="#1e1e1e">A11</text>
<line x1="125.60000000000001" y1="779.1" x2="141.0" y2="779.1" stroke="#767676" stroke-width="1.4"/>
<line x1="215.3" y1="779.1" x2="230.7" y2="779.1" stroke="#505050" stroke-width="1.4"/>
<text x="262.5" y="782.5" font-size="14.4" letter-spacing="0.55" word-spacing="1.25" fill="#1e1e1e">Not Used</text>
<text x="54.5" y="824.5" font-size="14.4" text-anchor="middle" letter-spacing="0.55" word-spacing="1.25" fill="#1e1e1e">A12</text>
<text x="133.3" y="824.5" font-size="14.4" text-anchor="middle" letter-spacing="0.55" word-spacing="1.25" fill="#1e1e1e">PNK/BLK</text>
<text x="223" y="824.5" font-size="14.4" text-anchor="middle" letter-spacing="0.55" word-spacing="1.25" fill="#1e1e1e">1379</text>
<text x="262.5" y="815.2" font-size="14.4" letter-spacing="0.55" word-spacing="1.25" fill="#1e1e1e">Oil Life/TPM Reset</text>
<text x="262.5" y="832.2" font-size="14.4" letter-spacing="0.55" word-spacing="1.25" fill="#1e1e1e">Switch Signal</text>
<text x="54.5" y="865.0" font-size="14.4" text-anchor="middle" letter-spacing="0.55" word-spacing="1.25" fill="#1e1e1e">B1</text>
<text x="133.3" y="865.0" font-size="14.4" text-anchor="middle" letter-spacing="0.55" word-spacing="1.25" fill="#1e1e1e">ORN</text>
<text x="223" y="865.0" font-size="14.4" text-anchor="middle" letter-spacing="0.55" word-spacing="1.25" fill="#1e1e1e">1732</text>
<text x="262.5" y="855.7" font-size="14.4" letter-spacing="0.55" word-spacing="1.25" fill="#1e1e1e">Courtesy Lamps Supply</text>
<text x="262.5" y="872.7" font-size="14.4" letter-spacing="0.55" word-spacing="1.25" fill="#1e1e1e">Voltage</text>
<text x="54.5" y="908.0" font-size="14.4" text-anchor="middle" letter-spacing="0.55" word-spacing="1.25" fill="#1e1e1e">B2</text>
<text x="133.3" y="897.0" font-size="14.4" text-anchor="middle" letter-spacing="0.55" word-spacing="1.25" fill="#1e1e1e">LT GRN/</text>
<text x="133.3" y="919.0" font-size="14.4" text-anchor="middle" letter-spacing="0.55" word-spacing="1.25" fill="#1e1e1e">BLK</text>
<text x="223" y="908.0" font-size="14.4" text-anchor="middle" letter-spacing="0.55" word-spacing="1.25" fill="#1e1e1e">1137</text>
<text x="262.5" y="898.7" font-size="14.4" letter-spacing="0.55" word-spacing="1.25" fill="#1e1e1e">DRL Ambient Light</text>
<text x="262.5" y="915.7" font-size="14.4" letter-spacing="0.55" word-spacing="1.25" fill="#1e1e1e">Sensor Signal</text>
<text x="54.5" y="943.2" font-size="14.4" text-anchor="middle" letter-spacing="0.55" word-spacing="1.25" fill="#1e1e1e">B3</text>
<line x1="125.60000000000001" y1="939.1" x2="141.0" y2="939.1" stroke="#767676" stroke-width="1.4"/>
<line x1="215.3" y1="939.1" x2="230.7" y2="939.1" stroke="#505050" stroke-width="1.4"/>
<text x="262.5" y="942.5" font-size="14.4" letter-spacing="0.55" word-spacing="1.25" fill="#1e1e1e">Not Used</text>
<text x="54.5" y="975.8" font-size="14.4" text-anchor="middle" letter-spacing="0.55" word-spacing="1.25" fill="#1e1e1e">B4</text>
<text x="133.3" y="975.8" font-size="14.4" text-anchor="middle" letter-spacing="0.55" word-spacing="1.25" fill="#1e1e1e">DK BLU</text>
<text x="223" y="975.8" font-size="14.4" text-anchor="middle" letter-spacing="0.55" word-spacing="1.25" fill="#1e1e1e">1201</text>
<text x="262.5" y="966.5" font-size="14.4" letter-spacing="0.55" word-spacing="1.25" fill="#1e1e1e">Headlamp Low Beam</text>
<text x="262.5" y="983.5" font-size="14.4" letter-spacing="0.55" word-spacing="1.25" fill="#1e1e1e">Signal</text>
<text x="54.5" y="1007.5" font-size="14.4" text-anchor="middle" letter-spacing="0.55" word-spacing="1.25" fill="#1e1e1e">B5</text>
<line x1="125.60000000000001" y1="1003.4" x2="141.0" y2="1003.4" stroke="#767676" stroke-width="1.4"/>
<line x1="215.3" y1="1003.4" x2="230.7" y2="1003.4" stroke="#505050" stroke-width="1.4"/>
<text x="262.5" y="1006.7" font-size="14.4" letter-spacing="0.55" word-spacing="1.25" fill="#1e1e1e">Not Used</text>
<line x1="487.2" y1="302.6" x2="916.8" y2="302.6" stroke="#1c1c1c" stroke-width="2.0"/>
<line x1="487.2" y1="367" x2="916.8" y2="367" stroke="#1c1c1c" stroke-width="2.0"/>
<line x1="487.2" y1="410" x2="916.8" y2="410" stroke="#1c1c1c" stroke-width="2.0"/>
<line x1="487.2" y1="479" x2="916.8" y2="479" stroke="#1c1c1c" stroke-width="2.0"/>
<line x1="487.2" y1="547" x2="916.8" y2="547" stroke="#1c1c1c" stroke-width="2.0"/>
<line x1="487.2" y1="590" x2="916.8" y2="590" stroke="#1c1c1c" stroke-width="2.0"/>
<line x1="487.2" y1="615" x2="916.8" y2="615" stroke="#1c1c1c" stroke-width="2.0"/>
<line x1="487.2" y1="658" x2="916.8" y2="658" stroke="#1c1c1c" stroke-width="2.0"/>
<line x1="487.2" y1="683" x2="916.8" y2="683" stroke="#1c1c1c" stroke-width="2.0"/>
<line x1="556" y1="453" x2="916.8" y2="453" stroke="#1c1c1c" stroke-width="2.0"/>
<line x1="556" y1="521" x2="916.8" y2="521" stroke="#1c1c1c" stroke-width="2.0"/>
<line x1="653" y1="302.6" x2="653" y2="725" stroke="#1c1c1c" stroke-width="2.0"/>
<line x1="556" y1="367" x2="556" y2="725" stroke="#1c1c1c" stroke-width="2.0"/>
<line x1="727" y1="367" x2="727" y2="725" stroke="#1c1c1c" stroke-width="2.0"/>
<text x="574.8" y="330.9" font-size="14.5" font-weight="bold" text-anchor="middle" letter-spacing="0.55" word-spacing="1.0" fill="#141414">Connector Part</text>
<text x="572.3" y="348.2" font-size="14.5" font-weight="bold" text-anchor="middle" letter-spacing="0.55" word-spacing="1.0" fill="#141414">Information</text>
<text x="680.5" y="320.5" font-size="14.5" font-weight="bold" letter-spacing="0.55" word-spacing="1.0" fill="#141414">•</text>
<text x="695.4" y="320.5" font-size="14.5" font-weight="bold" letter-spacing="0.55" word-spacing="1.0" fill="#141414">12110088</text>
<text x="680.5" y="342.7" font-size="14.5" font-weight="bold" letter-spacing="0.55" word-spacing="1.0" fill="#141414">•</text>
<text x="694.6" y="342.7" font-size="14.5" font-weight="bold" letter-spacing="0.55" word-spacing="1.0" fill="#141414">24-Way F Micro-Pack</text>
<text x="695.5" y="359.7" font-size="14.5" font-weight="bold" letter-spacing="0.55" word-spacing="1.0" fill="#141414">100 Series (GRY)</text>
<text x="528.7" y="402" font-size="14.5" font-weight="bold" text-anchor="middle" letter-spacing="0.55" word-spacing="1.0" fill="#141414">Pin</text>
<text x="607.3" y="384.8" font-size="14.5" font-weight="bold" text-anchor="middle" letter-spacing="0.55" word-spacing="1.0" fill="#141414">Wire</text>
<text x="605.0" y="402" font-size="14.5" font-weight="bold" text-anchor="middle" letter-spacing="0.55" word-spacing="1.0" fill="#141414">Color</text>
<text x="696.1" y="384.8" font-size="14.5" font-weight="bold" text-anchor="middle" letter-spacing="0.55" word-spacing="1.0" fill="#141414">Circuit</text>
<text x="693.6" y="402" font-size="14.5" font-weight="bold" text-anchor="middle" letter-spacing="0.55" word-spacing="1.0" fill="#141414">No.</text>
<text x="824.0" y="402" font-size="14.5" font-weight="bold" text-anchor="middle" letter-spacing="0.55" word-spacing="1.0" fill="#141414">Function</text>
<text x="526.0" y="449.8" font-size="14.4" text-anchor="middle" letter-spacing="0.55" word-spacing="1.25" fill="#1e1e1e">B6</text>
<text x="604.8" y="436.8" font-size="14.4" text-anchor="middle" letter-spacing="0.55" word-spacing="1.25" fill="#1e1e1e">YEL</text>
<text x="694.5" y="436.8" font-size="14.4" text-anchor="middle" letter-spacing="0.55" word-spacing="1.25" fill="#1e1e1e">1836</text>
<text x="734.0" y="428.1" font-size="14.4" letter-spacing="0.55" word-spacing="1.25" fill="#1e1e1e">Security System Sensor</text>
<text x="734.0" y="445.2" font-size="14.4" letter-spacing="0.55" word-spacing="1.25" fill="#1e1e1e">Signal-Domestic</text>
<line x1="597.0999999999999" y1="466.9" x2="612.5" y2="466.9" stroke="#767676" stroke-width="1.4"/>
<line x1="686.8" y1="466.9" x2="702.2" y2="466.9" stroke="#505050" stroke-width="1.4"/>
<text x="734.0" y="471.2" font-size="14.4" letter-spacing="0.55" word-spacing="1.25" fill="#1e1e1e">Not Used-Export</text>
<text x="526.0" y="518.3" font-size="14.4" text-anchor="middle" letter-spacing="0.55" word-spacing="1.25" fill="#1e1e1e">B7</text>
<text x="604.8" y="505.3" font-size="14.4" text-anchor="middle" letter-spacing="0.55" word-spacing="1.25" fill="#1e1e1e">LT BLU</text>
<text x="694.5" y="505.3" font-size="14.4" text-anchor="middle" letter-spacing="0.55" word-spacing="1.25" fill="#1e1e1e">187</text>
<text x="734.0" y="496.6" font-size="14.4" letter-spacing="0.55" word-spacing="1.25" fill="#1e1e1e">Rear Fog Lamp Switch</text>
<text x="734.0" y="513.8" font-size="14.4" letter-spacing="0.55" word-spacing="1.25" fill="#1e1e1e">Signal-Export</text>
<line x1="597.0999999999999" y1="534.9" x2="612.5" y2="534.9" stroke="#767676" stroke-width="1.4"/>
<line x1="686.8" y1="534.9" x2="702.2" y2="534.9" stroke="#505050" stroke-width="1.4"/>
<text x="734.0" y="539.2" font-size="14.4" letter-spacing="0.55" word-spacing="1.25" fill="#1e1e1e">Not Used-Domestic</text>
<text x="526.0" y="573.8" font-size="14.4" text-anchor="middle" letter-spacing="0.55" word-spacing="1.25" fill="#1e1e1e">B8</text>
<text x="604.8" y="573.8" font-size="14.4" text-anchor="middle" letter-spacing="0.55" word-spacing="1.25" fill="#1e1e1e">BRN</text>
<text x="694.5" y="573.8" font-size="14.4" text-anchor="middle" letter-spacing="0.55" word-spacing="1.25" fill="#1e1e1e">9</text>
<text x="734.0" y="565.2" font-size="14.4" letter-spacing="0.55" word-spacing="1.25" fill="#1e1e1e">Park Lamp Supply</text>
<text x="734.0" y="582.3" font-size="14.4" letter-spacing="0.55" word-spacing="1.25" fill="#1e1e1e">Voltage</text>
<text x="526.0" y="607.8" font-size="14.4" text-anchor="middle" letter-spacing="0.55" word-spacing="1.25" fill="#1e1e1e">B9</text>
<text x="604.8" y="607.8" font-size="14.4" text-anchor="middle" letter-spacing="0.55" word-spacing="1.25" fill="#1e1e1e">PNK</text>
<text x="694.5" y="607.8" font-size="14.4" text-anchor="middle" letter-spacing="0.55" word-spacing="1.25" fill="#1e1e1e">439</text>
<text x="734.0" y="607.7" font-size="14.4" letter-spacing="0.55" word-spacing="1.25" fill="#1e1e1e">Ignition 1 Voltage</text>
<text x="526.0" y="641.8" font-size="14.4" text-anchor="middle" letter-spacing="0.55" word-spacing="1.25" fill="#1e1e1e">B10</text>
<text x="604.8" y="641.8" font-size="14.4" text-anchor="middle" letter-spacing="0.55" word-spacing="1.25" fill="#1e1e1e">LT BLU</text>
<text x="694.5" y="641.8" font-size="14.4" text-anchor="middle" letter-spacing="0.55" word-spacing="1.25" fill="#1e1e1e">395</text>
<text x="734.0" y="633.2" font-size="14.4" letter-spacing="0.55" word-spacing="1.25" fill="#1e1e1e">Passenger Door Ajar</text>
<text x="734.0" y="650.3" font-size="14.4" letter-spacing="0.55" word-spacing="1.25" fill="#1e1e1e">Switch Signal</text>
<text x="526.0" y="675.8" font-size="14.4" text-anchor="middle" letter-spacing="0.55" word-spacing="1.25" fill="#1e1e1e">B11</text>
<text x="604.8" y="675.8" font-size="14.4" text-anchor="middle" letter-spacing="0.55" word-spacing="1.25" fill="#1e1e1e">BLK/WHT</text>
<text x="694.5" y="675.8" font-size="14.4" text-anchor="middle" letter-spacing="0.55" word-spacing="1.25" fill="#1e1e1e">238</text>
<text x="734.0" y="675.7" font-size="14.4" letter-spacing="0.55" word-spacing="1.25" fill="#1e1e1e">Seat Belt Switch - Left</text>
<text x="526.0" y="709.3" font-size="14.4" text-anchor="middle" letter-spacing="0.55" word-spacing="1.25" fill="#1e1e1e">B12</text>
<text x="604.8" y="709.3" font-size="14.4" text-anchor="middle" letter-spacing="0.55" word-spacing="1.25" fill="#1e1e1e">LT GRN</text>
<text x="694.5" y="709.3" font-size="14.4" text-anchor="middle" letter-spacing="0.55" word-spacing="1.25" fill="#1e1e1e">80</text>
<text x="734.0" y="700.7" font-size="14.4" letter-spacing="0.55" word-spacing="1.25" fill="#1e1e1e">Key In Ignition Switch</text>
<text x="734.0" y="717.8" font-size="14.4" letter-spacing="0.55" word-spacing="1.25" fill="#1e1e1e">Signal</text>
<line x1="467" y1="734.5" x2="934" y2="734.5" stroke="#b0b0b0" stroke-width="1.2"/>
</svg>
</body></html>
